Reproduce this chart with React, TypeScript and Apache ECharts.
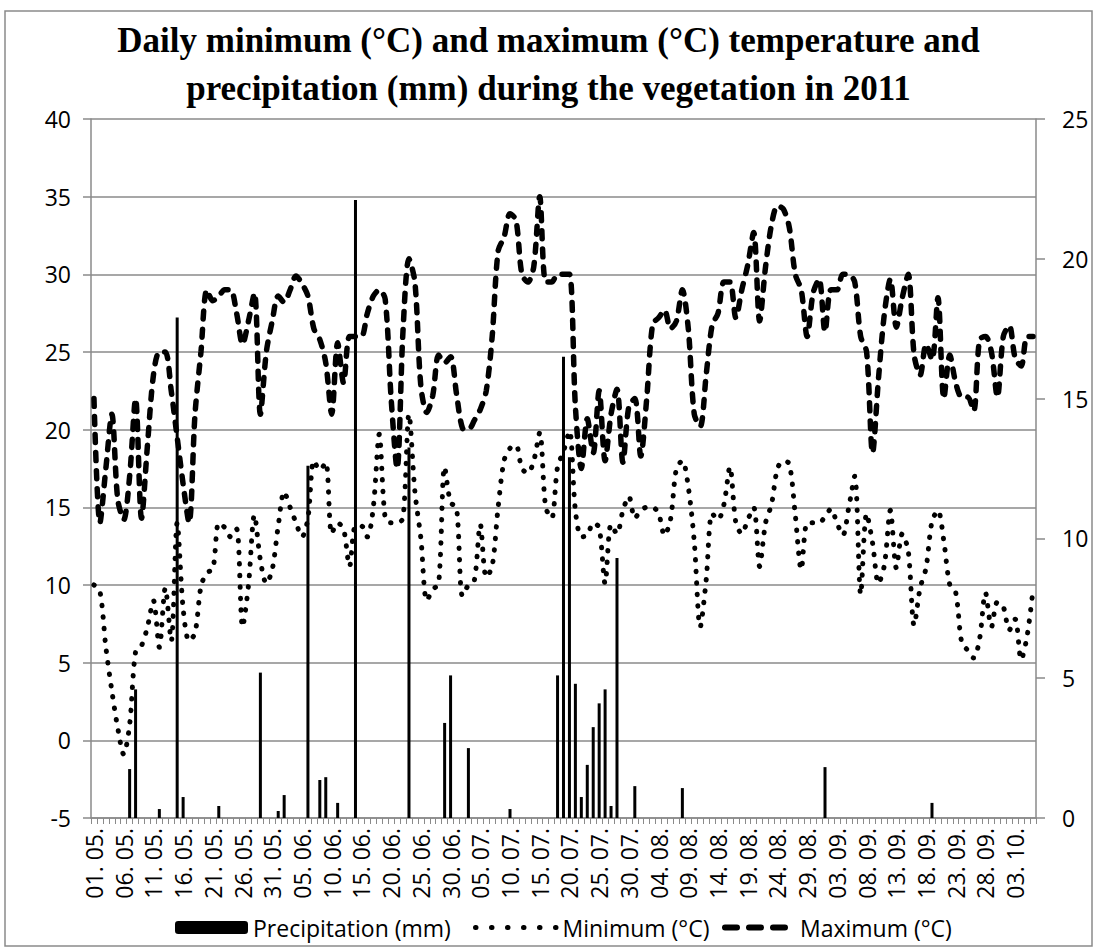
import React, { useEffect, useRef } from "react";
import * as echarts from "echarts";

// Category labels: 01.05. – 06.10.2011 (one per day)
const months: number[] = [5, 6, 7, 8, 9, 10];
const monthDays: number[] = [31, 30, 31, 31, 30, 6];
const categories: string[] = [];
months.forEach((m, i) => {
  for (let d = 1; d <= monthDays[i]; d++) {
    categories.push(`${String(d).padStart(2, "0")}. ${String(m).padStart(2, "0")}.`);
  }
});

const maxTemp: number[] = [
  22, 14, 17.5, 21, 15.5, 14.2, 17, 22, 14.3, 19,
  23.5, 25, 25, 22.5, 19.5, 16.5, 14, 21, 25, 29,
  28.3, 28.6, 29, 29, 27.5, 25.5, 27, 28.8, 21, 25,
  27, 28.6, 28.2, 29, 29.9, 29.4, 28.6, 26.5, 25.8, 24.3,
  21, 25.6, 23, 26, 26, 26, 27.5, 28.6, 29, 28.4,
  22, 17.5, 26.4, 31, 29.5, 22.8, 21.1, 22.2, 24.8, 24.3,
  24.7, 22.3, 20.1, 20, 20.6, 21.3, 22.5, 26, 31.5, 32.4,
  33.9, 33.5, 30, 29.5, 30.5, 35, 29.5, 29.5, 30, 30,
  30, 21.5, 17.5, 20.7, 18.5, 22.5, 18, 21, 22.6, 17.9,
  21.5, 22, 18.3, 22, 26.8, 27.2, 27.7, 26.5, 27, 29,
  26.5, 21, 20.2, 23.5, 26.7, 27.5, 29.5, 29.5, 27.2, 29,
  30.6, 32.7, 27, 30.5, 33.2, 34.4, 34.2, 33, 30, 29,
  26, 28.8, 29.7, 26.3, 29, 29, 30, 30, 29.5, 26,
  25, 18.5, 23.3, 27.5, 29.7, 26.6, 28.5, 30, 24.8, 23.5,
  25.5, 24.5, 28.5, 22, 24.8, 23, 22.1, 22.1, 21.2, 25.8,
  26, 25, 22.1, 26, 26.7, 24.6, 24.1, 26, 26,
];

const minTemp: number[] = [
  10, 9.6, 6, 3.2, 0.8, -0.9, 1, 5.7, 6.1, 7.3,
  9, 6, 9.8, 6.4, 14, 8.5, 6.4, 6.9, 9.9, 10.8,
  11, 14, 13.7, 13.1, 13.6, 7.3, 10, 14.5, 11.6, 10.1,
  11, 13.8, 16, 15, 14, 13.1, 14.3, 18, 17.4, 17.9,
  13.3, 14, 13.6, 11.2, 13.8, 13.8, 13.1, 15, 19.7, 14.3,
  14, 14, 14.3, 21, 16, 13, 9, 9.7, 10.1, 17.6,
  15.3, 15, 9.3, 10, 10.3, 13.9, 10.5, 11.2, 15, 18,
  18.8, 19, 17.5, 17.2, 18, 19.8, 15, 14.3, 17.6, 18.6,
  19.9, 14.8, 13.1, 13.2, 14, 13.7, 10.1, 13.9, 13.3, 14.8,
  15.7, 14.3, 14.8, 15, 15, 14.6, 13.2, 14.2, 17.5, 18,
  16.3, 12.8, 7.3, 10.3, 14.6, 14.2, 15.2, 17.6, 14, 13.3,
  14.2, 15, 11.2, 14, 15.2, 17.5, 18, 17.8, 14.5, 11,
  14, 14, 14, 14.4, 14.9, 14, 13.2, 15, 17, 9.4,
  14.6, 12.7, 10.1, 11.3, 14.8, 11.1, 13.3, 12.2, 7.4, 9.8,
  11.1, 14.1, 14.8, 12.8, 10, 9.5, 6.3, 5.8, 5.3, 6.5,
  9.5, 7.3, 8.9, 8.6, 7.1, 7.8, 5.2, 6.7, 9.7,
];

const precipitation: number[] = [
  0, 0, 0, 0, 0, 0, 1.75, 4.6, 0, 0,
  0, 0.32, 0, 0, 17.9, 0.75, 0, 0, 0, 0,
  0, 0.43, 0, 0, 0, 0, 0, 0, 5.2, 0,
  0, 0.25, 0.82, 0, 0, 0, 12.6, 0, 1.36, 1.46,
  0, 0.54, 0, 0, 22.1, 0, 0, 0, 0, 0,
  0, 0, 0, 13.25, 0, 0, 0, 0, 0, 3.4,
  5.1, 0, 0, 2.5, 0, 0, 0, 0, 0, 0,
  0.32, 0, 0, 0, 0, 0, 0, 0, 5.1, 16.5,
  12.9, 4.8, 0.75, 1.9, 3.25, 4.1, 4.6, 0.43, 9.3, 0,
  0, 1.14, 0, 0, 0, 0, 0, 0, 0, 1.07,
  0, 0, 0, 0, 0, 0, 0, 0, 0, 0,
  0, 0, 0, 0, 0, 0, 0, 0, 0, 0,
  0, 0, 0, 1.82, 0, 0, 0, 0, 0, 0,
  0, 0, 0, 0, 0, 0, 0, 0, 0, 0,
  0, 0.54, 0, 0, 0, 0, 0, 0, 0, 0,
  0, 0, 0, 0, 0, 0, 0, 0, 0,
];

const titleText =
  "Daily minimum (°C) and maximum (°C) temperature and\nprecipitation (mm) during the vegetation in 2011";

const GRAY = "#8a8a8a";
const FONT = "Open Sans";

export default function App() {
  const ref = useRef<HTMLDivElement>(null);

  useEffect(() => {
    if (!ref.current) return;
    const chart = echarts.init(ref.current, null, { renderer: "svg" });
    const legendText = { fontFamily: FONT, fontSize: 23, color: "#000" };
    chart.setOption({
      animation: false,
      backgroundColor: "#fff",
      title: {
        text: titleText,
        left: "center",
        top: 11,
        textStyle: {
          fontFamily: "Liberation Serif",
          fontWeight: "bold",
          fontSize: 35,
          lineHeight: 48,
          color: "#000",
        },
      },
      graphic: [
        {
          type: "rect",
          shape: { x: 5, y: 11, width: 1087, height: 935 },
          style: { fill: "none", stroke: GRAY, lineWidth: 1.5 },
          silent: true,
        },
      ],
      grid: { left: 91, right: 61, top: 119, bottom: 131, containLabel: false },
      legend: [
        {
          data: ["Precipitation (mm)"],
          left: 175,
          top: 916,
          padding: 0,
          itemWidth: 73,
          itemHeight: 13,
          textStyle: legendText,
        },
        {
          data: ["Minimum (°C)"],
          left: 473,
          top: 916,
          padding: 0,
          itemWidth: 82,
          itemHeight: 13,
          itemStyle: { opacity: 0 },
          lineStyle: { width: 5, type: [0.5, 15.5], cap: "round", color: "#000" },
          textStyle: legendText,
        },
        {
          data: ["Maximum (°C)"],
          left: 722,
          top: 916,
          padding: 0,
          itemWidth: 70,
          itemHeight: 13,
          itemStyle: { opacity: 0 },
          lineStyle: { width: 6, type: [12, 12], cap: "round", color: "#000" },
          textStyle: legendText,
        },
      ],
      xAxis: {
        type: "category",
        data: categories,
        boundaryGap: true,
        axisLine: { onZero: false, lineStyle: { color: GRAY, width: 1.5 } },
        axisTick: { show: true, interval: 0, length: 6, lineStyle: { color: GRAY, width: 1 } },
        axisLabel: {
          interval: 4,
          rotate: 90,
          margin: 10,
          fontFamily: FONT,
          fontSize: 23,
          color: "#000",
        },
        splitLine: { show: false },
      },
      yAxis: [
        {
          type: "value",
          min: -5,
          max: 40,
          interval: 5,
          position: "left",
          axisLine: { show: true, lineStyle: { color: GRAY, width: 1.5 } },
          axisTick: { show: true, length: 8, lineStyle: { color: GRAY, width: 1.5 } },
          axisLabel: { margin: 20, fontFamily: FONT, fontSize: 23, color: "#000" },
          splitLine: { show: true, lineStyle: { color: GRAY, width: 1.5 } },
        },
        {
          type: "value",
          min: 0,
          max: 25,
          interval: 5,
          position: "right",
          axisLine: { show: true, lineStyle: { color: GRAY, width: 1.5 } },
          axisTick: { show: true, length: 9, lineStyle: { color: GRAY, width: 1.5 } },
          axisLabel: { margin: 26, fontFamily: FONT, fontSize: 23, color: "#000" },
          splitLine: { show: false },
        },
      ],
      series: [
        {
          name: "Precipitation (mm)",
          type: "bar",
          yAxisIndex: 1,
          data: precipitation,
          barWidth: 3,
          itemStyle: { color: "#000" },
        },
        {
          name: "Minimum (°C)",
          type: "line",
          yAxisIndex: 0,
          data: minTemp,
          smooth: 0.3,
          symbol: "none",
          itemStyle: { color: "#000" },
          lineStyle: { color: "#000", width: 5, type: [0.5, 11], cap: "round" },
        },
        {
          name: "Maximum (°C)",
          type: "line",
          yAxisIndex: 0,
          data: maxTemp,
          smooth: 0.3,
          symbol: "none",
          itemStyle: { color: "#000" },
          lineStyle: { color: "#000", width: 5.5, type: [8, 10], cap: "round" },
        },
      ],
    });
    return () => chart.dispose();
  }, []);

  return (
    <div
      ref={ref}
      style={{ position: "absolute", left: 0, top: 0, width: 1097, height: 949 }}
    />
  );
}
